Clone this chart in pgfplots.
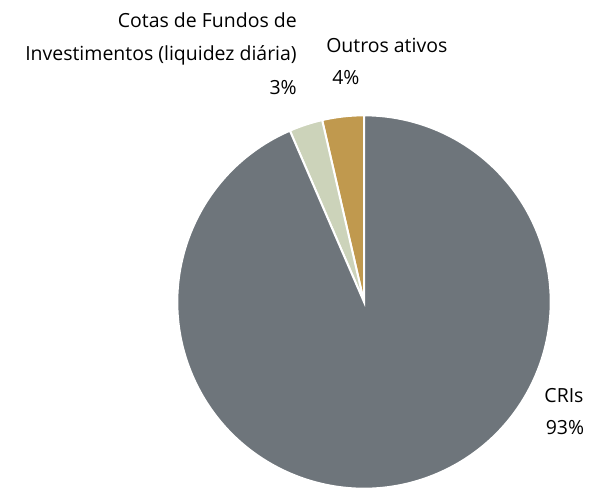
\documentclass[border=0pt]{standalone}
\usepackage{pgfplots}
\usepackage{pgfplotstable}
\pgfplotsset{compat=1.18}
\usepackage{fontspec}
\setmainfont{Open Sans}
\definecolor{cri}{HTML}{6E757B}
\definecolor{cotas}{HTML}{CCD3BA}
\definecolor{outros}{HTML}{C0994E}
\pgfplotstableread{
label value
Outros 3.6
Cotas 2.9
CRIs 93.5
}\pietable
\pgfplotstablegetelem{0}{value}\of\pietable \let\vA\pgfplotsretval
\pgfplotstablegetelem{1}{value}\of\pietable \let\vB\pgfplotsretval
\pgfplotstablegetelem{2}{value}\of\pietable \let\vC\pgfplotsretval
\pgfmathsetmacro{\aA}{90}
\pgfmathsetmacro{\aB}{\aA+3.6*\vA}
\pgfmathsetmacro{\aC}{\aB+3.6*\vB}
\pgfmathsetmacro{\aD}{\aC+3.6*\vC}
\tikzset{lbl/.style={inner sep=0pt, font=\fontsize{14.6}{17}\selectfont}}
\begin{document}
\begin{tikzpicture}
\begin{axis}[
  width=442.5pt, height=366pt, scale only axis,
  xmin=0, xmax=590, ymin=0, ymax=488,
  hide axis, clip=false,
]
\fill[outros, draw=white, line width=1.5pt] (axis cs:364,186) -- ++(\aA:140pt) arc[start angle=\aA, end angle=\aB, radius=140pt] -- cycle;
\fill[cotas, draw=white, line width=1.5pt] (axis cs:364,186) -- ++(\aB:140pt) arc[start angle=\aB, end angle=\aC, radius=140pt] -- cycle;
\fill[cri, draw=white, line width=1.5pt] (axis cs:364,186) -- ++(\aC:140pt) arc[start angle=\aC, end angle=\aD, radius=140pt] -- cycle;
\node[anchor=base east, lbl] at (axis cs:297,460) {Cotas de Fundos de};
\node[anchor=base east, lbl] at (axis cs:297,427) {Investimentos (liquidez diária)};
\node[anchor=base east, lbl] at (axis cs:297,393) {3\%};
\node[anchor=base west, lbl] at (axis cs:326,435) {Outros ativos};
\node[anchor=base west, lbl] at (axis cs:332,403) {4\%};
\node[anchor=base, lbl] at (axis cs:564,85) {CRIs};
\node[anchor=base, lbl] at (axis cs:565,53) {93\%};
\end{axis}
\pgfresetboundingbox
\path (0,0) rectangle (442.5pt,366pt);
\end{tikzpicture}
\end{document}
